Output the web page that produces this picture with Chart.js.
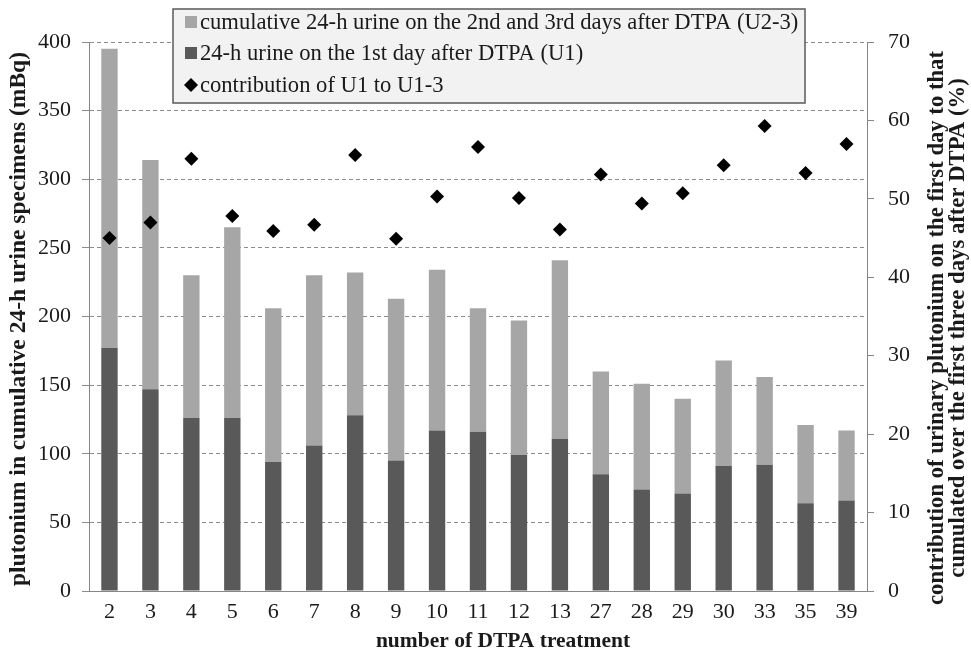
<!DOCTYPE html>
<html>
<head>
<meta charset="utf-8">
<script src="https://cdn.jsdelivr.net/npm/chart.js@4/dist/chart.umd.min.js"></script>
<style>
  html, body { margin: 0; padding: 0; background: #fff; }
  #wrap { width: 971px; height: 652px; position: relative; }
</style>
</head>
<body>
<div id="wrap"><canvas id="c"></canvas></div>
<script>
// Number of the DTPA treatment (x categories)
const treatments = ['2', '3', '4', '5', '6', '7', '8', '9', '10', '11', '12', '13', '27', '28', '29', '30', '33', '35', '39'];
// Plutonium in 24-h urine on the 1st day after DTPA, U1 (mBq)
const u1 = [177, 147, 126, 126, 94, 106, 128, 95, 117, 116, 99, 111, 85, 74, 71, 91, 92, 64, 66];
// Cumulative 24-h urine on the 2nd and 3rd days after DTPA, U2-3 (mBq)
const u23 = [218, 167, 104, 139, 112, 124, 104, 118, 117, 90, 98, 130, 75, 77, 69, 77, 64, 57, 51];
// Contribution of U1 to U1-3 (%)
const contribution = [45.0, 47.0, 55.1, 47.8, 45.9, 46.7, 55.6, 44.9, 50.3, 56.6, 50.1, 46.1, 53.1, 49.4, 50.7, 54.3, 59.3, 53.3, 57.0];

const legendLabels = [
  'cumulative 24-h urine on the 2nd and 3rd days after DTPA (U2-3)',
  '24-h urine on the 1st day after DTPA (U1)',
  'contribution of U1 to U1-3'
];
const leftTitle = 'plutonium in cumulative 24-h urine specimens (mBq)';
const rightTitle = ['contribution of urinary plutonium on the first day to that',
                    'cumulated over the first three days after DTPA (%)'];
const bottomTitle = 'number of DTPA treatment';

const SERIF = "'Liberation Serif', 'Times New Roman', serif";
const TEXT = '#1a1a1a';
const AXIS = '#868686';
const LIGHT = '#a6a6a6';
const DARK = '#595959';

// Titles and the boxed legend drawn on top of the chart area
const overlay = {
  id: 'overlay',
  afterDraw(chart) {
    const ctx = chart.ctx;
    ctx.save();
    ctx.fillStyle = TEXT;
    ctx.textAlign = 'center';
    ctx.textBaseline = 'middle';

    // bottom title
    ctx.font = "bold 21.5px " + SERIF;
    ctx.fillText(bottomTitle, 503, 641);

    // left title
    ctx.font = "bold 23.5px " + SERIF;
    ctx.save();
    ctx.translate(19, 319);
    ctx.rotate(-Math.PI / 2);
    ctx.fillText(leftTitle, 0, 0);
    ctx.restore();

    // right title, two lines
    ctx.font = "bold 22.7px " + SERIF;
    ctx.save();
    ctx.translate(937, 328);
    ctx.rotate(-Math.PI / 2);
    ctx.fillText(rightTitle[0], 0, 0);
    ctx.fillText(rightTitle[1], 0, 21);
    ctx.restore();

    // legend box
    const bx = 173, by = 9, bw = 632, bh = 94;
    ctx.fillStyle = '#f2f2f2';
    ctx.fillRect(bx, by, bw, bh);
    ctx.strokeStyle = '#5a5a5a';
    ctx.lineWidth = 1.5;
    ctx.strokeRect(bx, by, bw, bh);

    const rows = [22, 53, 85];
    const mx = 191;
    ctx.font = "22.6px " + SERIF;
    ctx.textAlign = 'left';
    ctx.fillStyle = LIGHT;
    ctx.fillRect(mx - 6, rows[0] - 6, 12, 12);
    ctx.fillStyle = DARK;
    ctx.fillRect(mx - 6, rows[1] - 6, 12, 12);
    ctx.fillStyle = '#000';
    ctx.beginPath();
    ctx.moveTo(mx, rows[2] - 7);
    ctx.lineTo(mx + 7, rows[2]);
    ctx.lineTo(mx, rows[2] + 7);
    ctx.lineTo(mx - 7, rows[2]);
    ctx.closePath();
    ctx.fill();
    ctx.fillStyle = TEXT;
    legendLabels.forEach((t, i) => ctx.fillText(t, 200, rows[i] + 1));
    ctx.restore();
  }
};

new Chart(document.getElementById('c'), {
  data: {
    labels: treatments,
    datasets: [
      {
        type: 'line',
        label: legendLabels[2],
        data: contribution,
        yAxisID: 'y1',
        showLine: false,
        pointStyle: 'rectRot',
        pointRadius: 7,
        pointHoverRadius: 7,
        pointBackgroundColor: '#000',
        pointBorderColor: '#000',
        pointBorderWidth: 0,
        order: 0
      },
      {
        type: 'bar',
        label: legendLabels[1],
        data: u1,
        yAxisID: 'y',
        backgroundColor: DARK,
        stack: 'u',
        barPercentage: 0.4,
        categoryPercentage: 1.0,
        order: 1
      },
      {
        type: 'bar',
        label: legendLabels[0],
        data: u23,
        yAxisID: 'y',
        backgroundColor: LIGHT,
        stack: 'u',
        barPercentage: 0.4,
        categoryPercentage: 1.0,
        order: 2
      }
    ]
  },
  options: {
    responsive: true,
    maintainAspectRatio: false,
    animation: false,
    layout: { padding: { top: 42, left: 0, right: 0, bottom: 0 } },
    plugins: { legend: { display: false }, tooltip: { enabled: false } },
    scales: {
      x: {
        stacked: true,
        offset: true,
        grid: { display: false, drawTicks: false },
        border: { display: true, color: AXIS, width: 1 },
        ticks: { color: TEXT, font: { family: SERIF, size: 22 }, padding: 8, maxRotation: 0, autoSkip: false },
        afterFit(s) { s.height = 61; }
      },
      y: {
        position: 'left',
        stacked: true,
        min: 0, max: 400,
        ticks: { stepSize: 50, color: TEXT, font: { family: SERIF, size: 22 }, padding: 11 },
        grid: { color: '#8c8c8c', lineWidth: 1, tickLength: 7, tickBorderDash: [] },
        border: { display: true, color: AXIS, width: 1, dash: [4, 3] },
        afterFit(s) { s.width = 89; }
      },
      y1: {
        position: 'right',
        min: 0, max: 70,
        ticks: { stepSize: 10, color: TEXT, font: { family: SERIF, size: 22 }, padding: 14 },
        grid: { drawOnChartArea: false, color: AXIS, tickLength: 7 },
        border: { display: true, color: AXIS, width: 1 },
        afterFit(s) { s.width = 104; }
      }
    }
  },
  plugins: [overlay]
});
</script>
</body>
</html>
